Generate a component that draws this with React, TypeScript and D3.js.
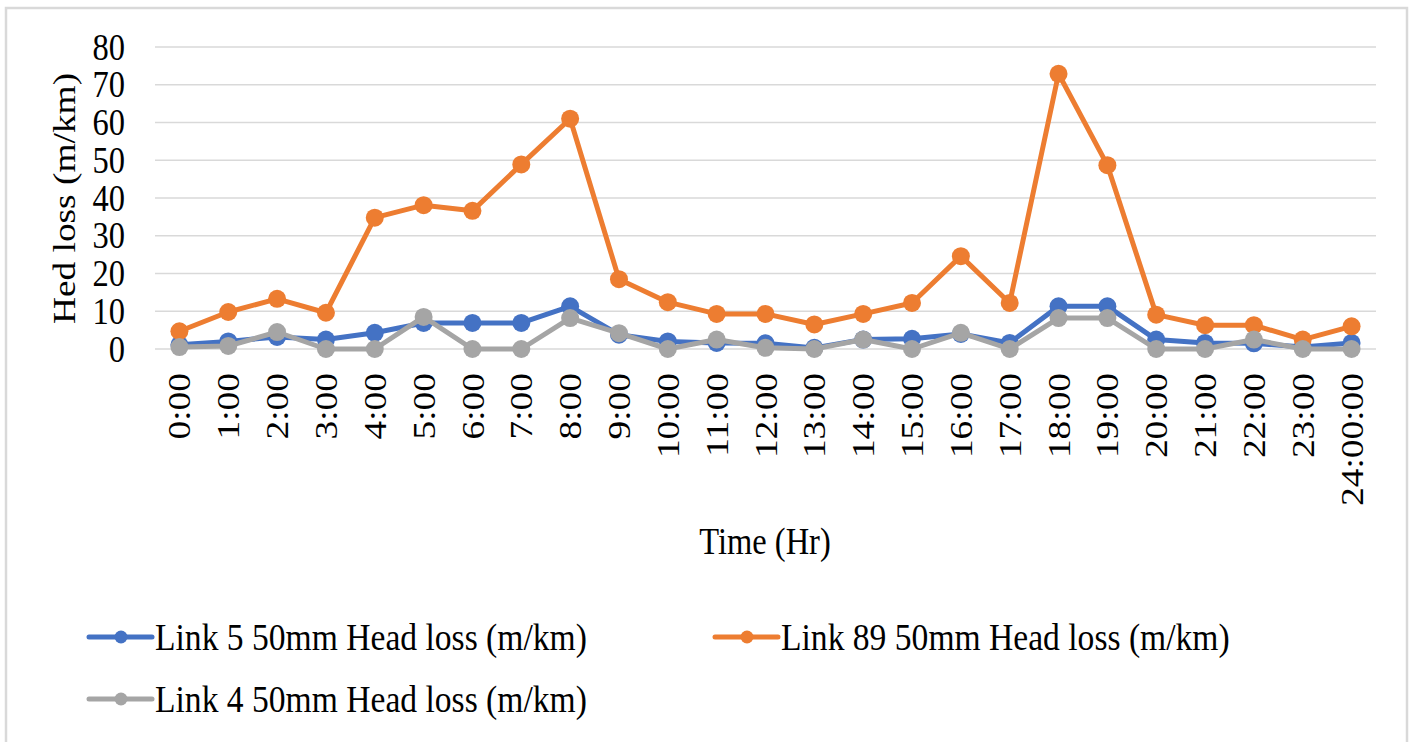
import React from "react";
import * as d3 from "d3";

// Hourly categories on the x axis
const hours: string[] = [
  "0:00", "1:00", "2:00", "3:00", "4:00", "5:00", "6:00", "7:00", "8:00", "9:00",
  "10:00", "11:00", "12:00", "13:00", "14:00", "15:00", "16:00", "17:00", "18:00",
  "19:00", "20:00", "21:00", "22:00", "23:00", "24:00:00",
];

// Head loss (m/km) per link
const link5: number[] = [
  1.1, 2.0, 3.2, 2.5, 4.3, 6.9, 6.9, 6.9, 11.3, 3.8, 2.0, 1.6, 1.5, 0.3, 2.5, 2.7,
  4.0, 1.6, 11.3, 11.3, 2.5, 1.6, 1.5, 0.5, 1.6,
];
const link89: number[] = [
  4.7, 9.8, 13.3, 9.6, 34.8, 38.1, 36.6, 48.9, 61.0, 18.5, 12.4, 9.3, 9.3, 6.5, 9.3,
  12.2, 24.6, 12.2, 72.9, 48.7, 9.1, 6.3, 6.3, 2.5, 6.0,
];
const link4: number[] = [
  0.5, 0.8, 4.5, 0, 0, 8.5, 0, 0, 8.2, 4.2, 0, 2.5, 0.3, 0, 2.5, 0, 4.3, 0, 8.2, 8.2,
  0, 0, 2.5, 0, 0,
];

const yTicks: number[] = [0, 10, 20, 30, 40, 50, 60, 70, 80];

const seriesNames: string[] = [
  "Link 5 50mm Head loss (m/km)",
  "Link 89 50mm Head loss (m/km)",
  "Link 4 50mm Head loss (m/km)",
];
const seriesColors: string[] = ["#4472C4", "#ED7D31", "#A5A5A5"];

const W = 1413;
const H = 742;
const plotLeft = 155;
const plotRight = 1376;
const plotTop = 47;
const plotBottom = 349;

const FONT = "'Liberation Serif', 'Times New Roman', serif";
const FS = 32.5;
const LEGEND_FS = 33.6;
const STRETCH = 1.15;

export default function App() {
  const x = d3
    .scalePoint<string>()
    .domain(hours)
    .range([plotLeft, plotRight])
    .padding(0.5);
  const y = d3.scaleLinear().domain([0, 80]).range([plotBottom, plotTop]);

  const series = [link5, link89, link4];
  const line = d3
    .line<number>()
    .x((_, i) => x(hours[i]) as number)
    .y((v) => y(v));

  const legendItems = [
    { name: seriesNames[0], color: seriesColors[0], lx: 89, ly: 637 },
    { name: seriesNames[1], color: seriesColors[1], lx: 715, ly: 637 },
    { name: seriesNames[2], color: seriesColors[2], lx: 89, ly: 699 },
  ];

  return (
    <svg
      width={W}
      height={H}
      style={{ position: "absolute", left: 0, top: 0, background: "#fff" }}
      fontFamily={FONT}
    >
      <rect x={0} y={0} width={W} height={H} fill="#fff" />
      {/* chart frame */}
      <rect x={6} y={8} width={1401} height={760} fill="#fff" stroke="#D9D9D9" strokeWidth={2.5} />

      {/* grid */}
      {yTicks.map((t) => (
        <line
          key={"g" + t}
          x1={plotLeft}
          x2={plotRight}
          y1={y(t)}
          y2={y(t)}
          stroke="#D9D9D9"
          strokeWidth={1.5}
        />
      ))}

      {/* y tick labels */}
      {yTicks.map((t) => (
        <text
          key={"yt" + t}
          transform={`translate(125,${y(t)}) scale(1,${STRETCH})`}
          y={FS * 0.34}
          textAnchor="end"
          fontSize={FS}
          fill="#000"
        >
          {t}
        </text>
      ))}

      {/* x tick labels */}
      {hours.map((h) => (
        <text
          key={"xt" + h}
          transform={`translate(${x(h)},373) rotate(-90) scale(${STRETCH},1)`}
          y={FS * 0.34}
          textAnchor="end"
          fontSize={FS}
          fill="#000"
        >
          {h}
        </text>
      ))}

      {/* axis titles */}
      <text
        transform={`translate(75,198.5) rotate(-90) scale(${STRETCH},1)`}
        textAnchor="middle"
        fontSize={FS}
        fill="#000"
      >
        Hed loss (m/km)
      </text>
      <text
        transform={`translate(765,554) scale(1,${STRETCH})`}
        textAnchor="middle"
        fontSize={FS}
        fill="#000"
      >
        Time (Hr)
      </text>

      {/* series */}
      {series.map((vals, si) => (
        <g key={"s" + si}>
          <path
            d={line(vals) as string}
            fill="none"
            stroke={seriesColors[si]}
            strokeWidth={5}
            strokeLinejoin="round"
            strokeLinecap="round"
          />
          {vals.map((v, i) => (
            <circle
              key={i}
              cx={x(hours[i]) as number}
              cy={y(v)}
              r={9}
              fill={seriesColors[si]}
            />
          ))}
        </g>
      ))}

      {/* legend */}
      {legendItems.map((it) => (
        <g key={it.name}>
          <line
            x1={it.lx}
            x2={it.lx + 63}
            y1={it.ly}
            y2={it.ly}
            stroke={it.color}
            strokeWidth={5}
            strokeLinecap="round"
          />
          <circle cx={it.lx + 32} cy={it.ly} r={6.5} fill={it.color} />
          <text
            transform={`translate(${it.lx + 66},${it.ly}) scale(1,${STRETCH})`}
            y={LEGEND_FS * 0.34}
            fontSize={LEGEND_FS}
            fill="#000"
          >
            {it.name}
          </text>
        </g>
      ))}
    </svg>
  );
}
